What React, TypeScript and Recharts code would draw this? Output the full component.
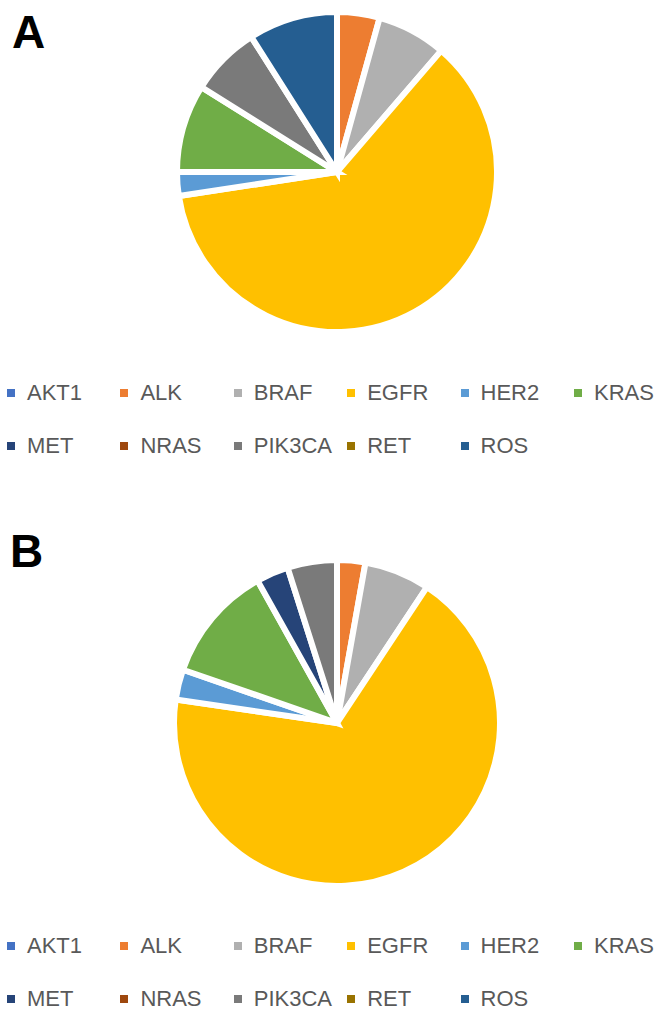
import { PieChart, Pie, Cell, Legend } from 'recharts';

// gene order as in the legend (and slice order, clockwise from 12 o'clock)
const genes = ['AKT1', 'ALK', 'BRAF', 'EGFR', 'HER2', 'KRAS', 'MET', 'NRAS', 'PIK3CA', 'RET', 'ROS'];
const geneColors = ['#4472C4', '#ED7D31', '#B0B0B0', '#FFC000', '#5B9BD5', '#70AD47', '#264478', '#9E480E', '#7A7A7A', '#997300', '#255E91'];

// share of patients per gene (%)
const panelA = [0, 4.3, 7.0, 61.3, 2.4, 8.9, 0, 0, 7.1, 0, 9.0];
const panelB = [0, 2.8, 6.5, 68.0, 3.0, 11.6, 3.2, 0, 4.9, 0, 0];

const toRows = (values: number[]) => genes.map((gene, i) => ({ gene, value: values[i] }));

function GeneLegend() {
  return (
    <div
      style={{
        display: 'grid',
        gridTemplateColumns: 'repeat(6, 113.4px)',
        gridAutoRows: '53px',
        paddingLeft: 7,
        fontFamily: '"Liberation Sans", Arial, sans-serif',
        fontSize: 22,
        color: '#595959',
      }}
    >
      {genes.map((gene, i) => (
        <div key={gene} style={{ display: 'flex', alignItems: 'center', whiteSpace: 'nowrap' }}>
          <span style={{ width: 8, height: 8, background: geneColors[i], marginRight: 12, flex: 'none' }} />
          <span>{gene}</span>
        </div>
      ))}
    </div>
  );
}

interface PanelProps {
  label: string;
  values: number[];
  height: number;
  cy: number;
  radius: number;
  labelTop: number;
  labelLeft: number;
  legendTop: number;
}

function Panel({ label, values, height, cy, radius, labelTop, labelLeft, legendTop }: PanelProps) {
  return (
    <div style={{ position: 'relative', width: 657, height }}>
      <div
        style={{
          position: 'absolute',
          top: labelTop,
          left: labelLeft,
          fontFamily: '"Liberation Sans", Arial, sans-serif',
          fontWeight: 'bold',
          fontSize: 46,
          lineHeight: '46px',
          zIndex: 2,
        }}
      >
        {label}
      </div>
      <PieChart width={657} height={height} margin={{ top: 0, right: 0, bottom: 0, left: 0 }}>
        <Pie
          data={toRows(values)}
          dataKey="value"
          nameKey="gene"
          cx={337}
          cy={cy}
          outerRadius={radius}
          startAngle={90}
          endAngle={-270}
          stroke="#FFFFFF"
          strokeWidth={6}
          isAnimationActive={false}
        >
          {genes.map((gene, i) => (
            <Cell key={gene} fill={geneColors[i]} />
          ))}
        </Pie>
        <Legend
          verticalAlign="bottom"
          content={() => <GeneLegend />}
          wrapperStyle={{ top: legendTop, bottom: 'auto', left: 0, width: 657 }}
        />
      </PieChart>
    </div>
  );
}

export default function App() {
  return (
    <div style={{ position: 'absolute', top: 0, left: 0, width: 657, height: 1011, background: '#FFFFFF', overflow: 'hidden' }}>
      <Panel label="A" values={panelA} height={505} cy={172} radius={160} labelTop={9} labelLeft={12} legendTop={366} />
      <Panel label="B" values={panelB} height={506} cy={218} radius={163} labelTop={23} labelLeft={10} legendTop={414} />
    </div>
  );
}
